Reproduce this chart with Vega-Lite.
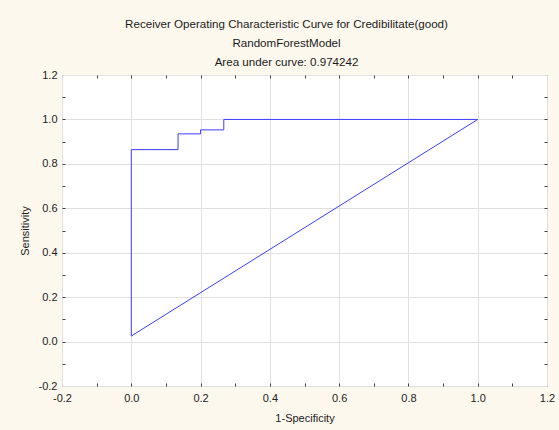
{
  "$schema": "https://vega.github.io/schema/vega-lite/v6.json",
  "autosize": {"type": "none"},
  "width": 485,
  "height": 311,
  "padding": {"left": 62, "top": 75, "right": 12, "bottom": 44},
  "background": "#fdf8ee",
  "title": {
    "text": ["Receiver Operating Characteristic Curve for Credibilitate(good)", "RandomForestModel", "Area under curve: 0.974242"],
    "font": "Liberation Sans",
    "fontSize": 11.6,
    "fontWeight": "normal",
    "color": "#1a1a1a",
    "lineHeight": 19,
    "anchor": "middle",
    "dx": -18,
    "offset": 0
  },
  "config": {
    "view": {"stroke": "#404040", "strokeWidth": 1, "fill": "white"},
    "axis": {"labelFont": "Liberation Sans", "titleFont": "Liberation Sans", "labelColor": "#222", "titleColor": "#222", "labelFontSize": 11, "titleFontSize": 11, "titleFontWeight": "normal"}
  },
  "data": {
    "values": [
      {"o": 1, "fpr": 0, "tpr": 0.025},
      {"o": 2, "fpr": 0, "tpr": 0.864},
      {"o": 3, "fpr": 0.135, "tpr": 0.864},
      {"o": 4, "fpr": 0.135, "tpr": 0.935},
      {"o": 5, "fpr": 0.2, "tpr": 0.935},
      {"o": 6, "fpr": 0.2, "tpr": 0.953},
      {"o": 7, "fpr": 0.267, "tpr": 0.953},
      {"o": 8, "fpr": 0.267, "tpr": 1.0},
      {"o": 9, "fpr": 1.0, "tpr": 1.0},
      {"o": 10, "fpr": 0, "tpr": 0.025}
    ]
  },
  "layer": [
    {
      "mark": {"type": "line", "color": "#3c3cff", "strokeWidth": 1, "clip": true},
      "encoding": {
        "x": {"field": "fpr", "type": "quantitative", "title": "1-Specificity",
          "scale": {"domain": [-0.2, 1.2], "nice": false, "zero": false},
          "axis": {"orient": "bottom", "values": [-0.2, 0, 0.2, 0.4, 0.6, 0.8, 1.0, 1.2],
            "labelExpr": "replace(format(datum.value, '.1f'), '\u2212', '-')",
            "grid": true, "gridColor": "#e0e0e0",
            "ticks": false, "domain": false, "labelPadding": 6, "titlePadding": 9, "labelFlush": false}},
        "y": {"field": "tpr", "type": "quantitative", "title": "Sensitivity",
          "scale": {"domain": [-0.2, 1.2], "nice": false, "zero": false},
          "axis": {"orient": "left", "values": [-0.2, 0, 0.2, 0.4, 0.6, 0.8, 1.0, 1.2],
            "labelExpr": "replace(format(datum.value, '.1f'), '\u2212', '-')",
            "grid": true, "gridColor": "#e0e0e0",
            "ticks": false, "domain": false, "labelPadding": 5, "titlePadding": 8, "labelFlush": false}},
        "order": {"field": "o", "type": "quantitative"}
      }
    },
    {
      "mark": {"type": "line", "strokeOpacity": 0},
      "encoding": {
        "x": {"field": "fpr", "type": "quantitative",
          "axis": {"orient": "top", "offset": -311, "values": [-0.1, 0, 0.1, 0.2, 0.3, 0.4, 0.5, 0.6, 0.7, 0.8, 0.9, 1.0, 1.1],
            "labels": false, "grid": false, "domain": false, "title": null, "tickSize": 3, "tickColor": "#404040"}},
        "y": {"field": "tpr", "type": "quantitative",
          "axis": {"orient": "right", "offset": -485, "values": [-0.1, 0, 0.1, 0.2, 0.3, 0.4, 0.5, 0.6, 0.7, 0.8, 0.9, 1.0, 1.1],
            "labels": false, "grid": false, "domain": false, "title": null, "tickSize": 3, "tickColor": "#404040"}},
        "order": {"field": "o", "type": "quantitative"}
      }
    },
    {
      "mark": {"type": "line", "strokeOpacity": 0},
      "encoding": {
        "x": {"field": "fpr", "type": "quantitative",
          "axis": {"orient": "bottom", "offset": -311, "values": [-0.1, 0, 0.1, 0.2, 0.3, 0.4, 0.5, 0.6, 0.7, 0.8, 0.9, 1.0, 1.1],
            "labels": false, "grid": false, "domain": false, "title": null, "tickSize": 3, "tickColor": "#404040"}},
        "y": {"field": "tpr", "type": "quantitative",
          "axis": {"orient": "left", "offset": -485, "values": [-0.1, 0, 0.1, 0.2, 0.3, 0.4, 0.5, 0.6, 0.7, 0.8, 0.9, 1.0, 1.1],
            "labels": false, "grid": false, "domain": false, "title": null, "tickSize": 3, "tickColor": "#404040"}},
        "order": {"field": "o", "type": "quantitative"}
      }
    }
  ],
  "resolve": {"axis": {"x": "independent", "y": "independent"}}
}
